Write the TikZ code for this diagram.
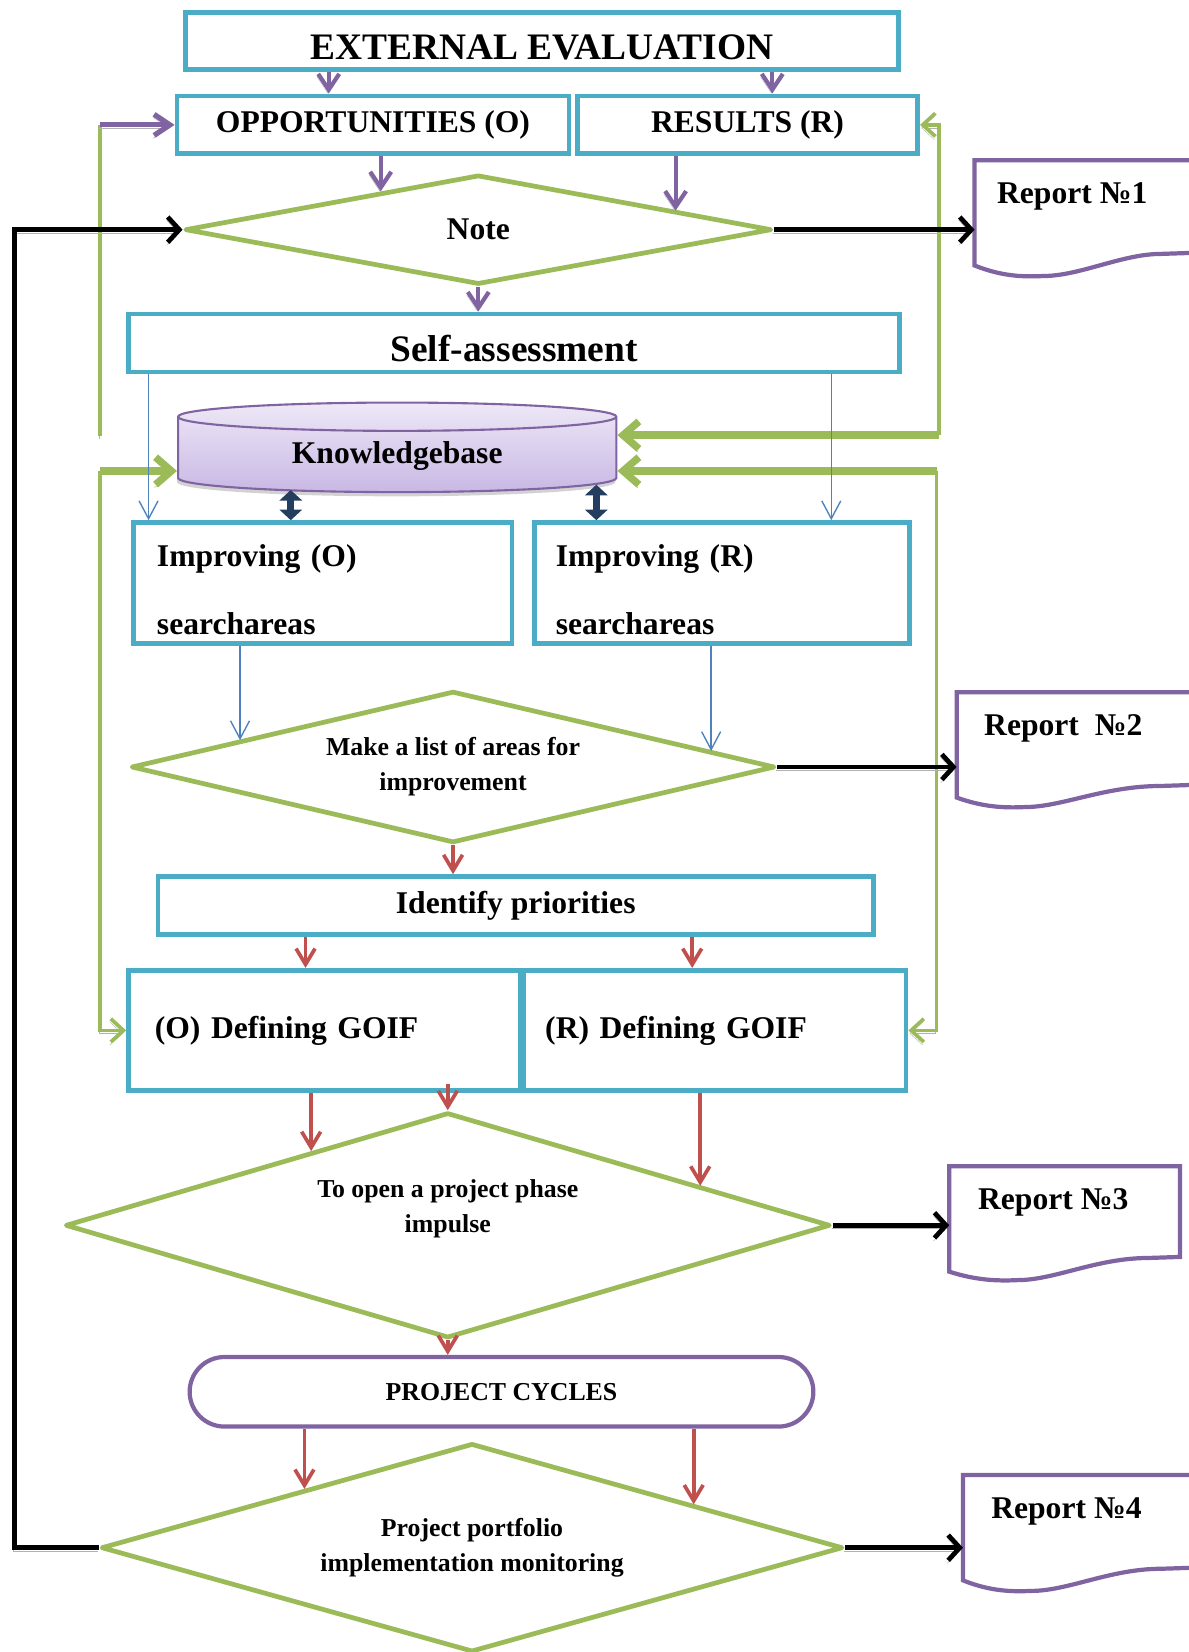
\documentclass[tikz,border=0pt]{standalone}
\usepackage{fontspec}
\setmainfont{Liberation Serif}
\usetikzlibrary{shapes.geometric,arrows.meta,calc,shadows}

\definecolor{boxblue}{RGB}{75,172,198}
\definecolor{dgreen}{RGB}{155,187,89}
\definecolor{dpurple}{RGB}{128,100,162}
\definecolor{dred}{RGB}{192,80,77}
\definecolor{lblue}{RGB}{79,129,189}
\definecolor{navy}{RGB}{36,62,96}
\definecolor{kbtop}{RGB}{238,232,247}
\definecolor{kbbot}{RGB}{200,184,228}

\begin{document}
\begin{tikzpicture}[x=1pt, y=-1pt,
  bluebox/.style={rectangle, draw=boxblue, line width=4.5pt, fill=white,
    font=\bfseries\fontsize{30}{36}\selectfont},
  titlebox/.style={bluebox, text height=35pt, font=\bfseries\fontsize{35.5}{40}\selectfont},
  dia/.style={diamond, aspect=4, draw=dgreen, line width=4.5pt, line join=round, fill=white,
    inner sep=0pt, align=center, font=\bfseries\fontsize{24.5}{33}\selectfont},
  dtext/.style={align=center, font=\bfseries\fontsize{24.5}{33}\selectfont},
  report/.style={rectangle, anchor=north west, minimum height=68pt, inner sep=0pt,
    font=\bfseries\fontsize{30}{36}\selectfont},
  repline/.style={draw=dpurple, line width=4pt, fill=white},
  lineshadow/.style={preaction={draw=black!30, transform canvas={shift={(-1pt,-3pt)}}}},
  parrow/.style={draw=dpurple, line width=4pt, lineshadow, -{Straight Barb[length=15pt,width=20pt]}},
  rarrow/.style={draw=dred, line width=3.5pt, -{Straight Barb[length=15pt,width=18pt]}},
  tarrow/.style={draw=lblue, line width=1.3pt, -{Straight Barb[length=17pt,width=18pt]}},
  barrow/.style={draw=black, line width=4.5pt, lineshadow, -{Straight Barb[length=11pt,width=24pt]}},
  gline/.style={draw=dgreen, line width=3.5pt, lineshadow},
  gthick/.style={draw=dgreen, line width=7pt, lineshadow, -{Straight Barb[length=15pt,width=26pt]}},
  darrow/.style={draw=navy, line width=7pt, {Triangle[length=10pt,width=21pt]}-{Triangle[length=10pt,width=21pt]}}
]
\useasboundingbox (0,0) rectangle (1128,1568);

\node[titlebox, minimum width=677pt, minimum height=54pt] (ext) at (514.5,39) {EXTERNAL EVALUATION};
\node[bluebox, minimum width=372pt, minimum height=55pt] (opp) at (354,118.5) {OPPORTUNITIES (O)};
\node[bluebox, minimum width=323pt, minimum height=55pt] (res) at (709.5,118.5) {RESULTS (R)};
\node[dia, minimum width=557pt, minimum height=104pt, font=\bfseries\fontsize{30}{36}\selectfont] (note) at (454,218) {Note};
\node[titlebox, minimum width=732pt, minimum height=55pt] (self) at (488,325.5) {Self-assessment};
\node[cylinder, shape border rotate=90, aspect=0.13, draw=dpurple, line width=2pt,
  top color=kbtop, bottom color=kbbot, minimum width=416pt, minimum height=85pt,
  drop shadow={shadow xshift=-1pt, shadow yshift=-4pt, fill=black!35},
  font=\bfseries\fontsize{30}{36}\selectfont] (kb) at (377,433) {Knowledgebase};
\node[bluebox, minimum width=359pt, minimum height=115pt, text width=315pt, align=left] (impo) at (306.5,553.5) {\rule{0pt}{33pt}Improving (O)\\[29pt]searchareas};
\node[bluebox, minimum width=356pt, minimum height=115pt, text width=315pt, align=left] (impr) at (685,553.5) {\rule{0pt}{33pt}Improving (R)\\[29pt]searchareas};
\node[dia, minimum width=611pt, minimum height=144pt] (list) at (430,728) {Make a list of areas for\\improvement};
\node[bluebox, minimum width=679pt, minimum height=55pt] (prio) at (489.5,859.5) {Identify priorities};
\node[bluebox, minimum width=372pt, minimum height=114pt, text width=322pt, align=left] (defo) at (308,978) {(O) Defining GOIF};
\node[bluebox, minimum width=363pt, minimum height=114pt, text width=322pt, align=left] (defr) at (678.5,978) {(R) Defining GOIF};
\node[dia, minimum width=726pt, minimum height=214pt,
  label={[dtext, yshift=16pt]center:To open a project phase\\impulse}] (open) at (425,1163) {};
\node[rectangle, rounded corners=33pt, draw=dpurple, line width=4pt, fill=white,
  minimum width=592pt, minimum height=66pt, font=\bfseries\fontsize{24.5}{30}\selectfont] (cyc) at (476,1321) {PROJECT CYCLES};
\node[dia, minimum width=704pt, minimum height=198pt] (port) at (448,1469) {Project portfolio\\implementation monitoring};

\foreach \n/\x/\y/\w/\ry/\my/\lbl in {1/925/152/207/88/110/Report №1, 2/908/657/224/88/109/Report~ №2,
    3/901/1107/219/86/108/Report №3, 4/914/1400/218/88/110/Report №4} {
  \draw[repline] (\x,\y) -- (\x+\w,\y) -- (\x+\w,\y+\ry) -- (\x+\w-30,\y+\ry+1)
    .. controls (\x+140,\y+\ry+1) and (\x+100,\y+\my) .. (\x+65,\y+\my)
    .. controls (\x+45,\y+\my+1) and (\x+25,\y+\my) .. (\x,\y+100) -- cycle;
  \node[report, minimum width={\w pt-22pt}] (rep\n) at (\x,\y) {\lbl};
}

\coordinate (gl1) at (95,414);
\coordinate (gl2) at (95,447);
\coordinate (gr1) at (891,413);
\coordinate (gr2) at (889,447);
\draw[gline] (gl1) -- (gl1 |- opp.west);
\draw[parrow, line width=5pt] (gl1 |- opp.west) -- (opp.west);
\draw[gline, -{Straight Barb[length=12pt,width=22pt]}] (gr1) |- (res.east);
\draw[gline, -{Straight Barb[length=12pt,width=22pt]}] (gr2) |- (defr.east);
\draw[gline, -{Straight Barb[length=12pt,width=22pt]}] (gl2) |- (defo.west);
\draw[gthick] (gr1) -- (gr1 -| kb.east);
\draw[gthick] (gr2) -- (gr2 -| kb.east);
\draw[gthick] (gl2) -- (gl2 -| kb.west);

% points where arrows meet the slanted diamond sides
\coordinate (n1) at ($(note.west)!0.67!(note.north)$);
\coordinate (n2) at ($(note.north)!0.667!(note.east)$);
\coordinate (l1) at ($(list.west)!0.343!(list.north)$);
\coordinate (l2) at ($(list.north)!0.796!(list.east)$);
\coordinate (o1) at ($(open.west)!0.645!(open.north)$);
\coordinate (o2) at ($(open.north)!0.656!(open.east)$);
\coordinate (p1) at ($(port.west)!0.551!(port.north)$);
\coordinate (p2) at ($(port.north)!0.594!(port.east)$);

\draw[parrow] (312,0 |- ext.south) -- (312,0 |- opp.north);
\draw[parrow] (733,0 |- ext.south) -- (733,0 |- res.north);
\draw[parrow] (n1 |- opp.south) -- (n1);
\draw[parrow] (n2 |- res.south) -- (n2);
\draw[parrow] (note.south) -- (note.south |- self.north);

\draw[tarrow] (141,0 |- self.south) -- (141,0 |- impo.north);
\draw[tarrow] (789,0 |- self.south) -- (789,0 |- impr.north);
\draw[tarrow] (l1 |- impo.south) -- (l1);
\draw[tarrow] (l2 |- impr.south) -- (l2);
\draw[darrow] ([yshift=3pt]276,0 |- kb.south) -- (276,0 |- impo.north);
\draw[darrow] ([yshift=8pt]566,0 |- kb.south) -- (566,0 |- impr.north);

\draw[rarrow] (list.south) -- (list.south |- prio.north);
\draw[rarrow] (290,0 |- prio.south) -- (290,0 |- defo.north);
\draw[rarrow] (657,0 |- prio.south) -- (657,0 |- defr.north);
\draw[rarrow] (o1 |- defo.south) -- (o1);
\draw[rarrow] ($(open.north |- defo.south)+(0,-8)$) -- (open.north);
\draw[rarrow] (o2 |- defr.south) -- (o2);
\draw[rarrow] (open.south) -- (open.south |- cyc.north);
\draw[rarrow] (p1 |- cyc.south) -- (p1);
\draw[rarrow] (p2 |- cyc.south) -- (p2);

\draw[barrow] (port.west) -- ++(-80,0) |- (note.west);
\foreach \src/\dst in {note/rep1, list/rep2, open/rep3, port/rep4}
  \draw[barrow] (\src.east) -- (\src.east -| \dst.west);
\end{tikzpicture}
\end{document}
